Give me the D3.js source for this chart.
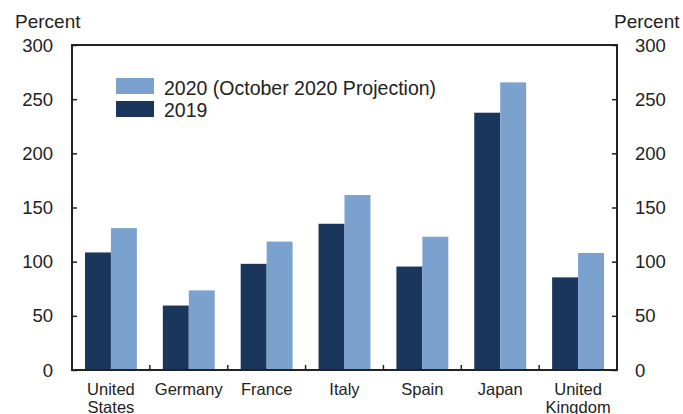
<!DOCTYPE html>
<html><head><meta charset="utf-8">
<script src="https://cdn.jsdelivr.net/npm/d3@7/dist/d3.min.js"></script>
<style>body{margin:0;background:#fff}svg{display:block;font-family:"Liberation Sans",Arial,sans-serif}</style>
</head><body><svg id="c" width="683" height="414"></svg>
<script>
const categories = [["United","States"],["Germany"],["France"],["Italy"],["Spain"],["Japan"],["United","Kingdom"]];
const values2019 = [108.5, 59.5, 98, 135, 95.5, 237.5, 85.5];
const values2020 = [131, 73.5, 118.5, 161.5, 123, 265.5, 108];
const yTicks = [0, 50, 100, 150, 200, 250, 300];
const seriesNames = ["2020 (October 2020 Projection)", "2019"];
const colors = {dark:"#1b365d", light:"#7ba2cf"};

const svg = d3.select("#c");
const m = {l:72, r:617, t:45, b:370};
const x = d3.scaleBand().domain(d3.range(categories.length)).range([m.l, m.r]).paddingInner(0).paddingOuter(0);
const y = d3.scaleLinear().domain([0,300]).range([m.b, m.t]);
const inner = d3.scaleBand().domain([0,1]).range([0, x.bandwidth()]).paddingOuter(0.5).paddingInner(0);

const g = svg.append("g");
categories.forEach((c,i)=>{
  [[values2019[i], colors.dark],[values2020[i], colors.light]].forEach(([v,col],k)=>{
    g.append("rect").attr("x", x(i)+inner(k)).attr("width", inner.bandwidth())
      .attr("y", y(v)).attr("height", y(0)-y(v)).attr("fill", col);
  });
});

const fs = "18.5px";
const left = svg.append("g").attr("transform",`translate(${m.l},0)`)
  .call(d3.axisRight(y).tickValues(yTicks).tickSize(5).tickFormat(""));
const right = svg.append("g").attr("transform",`translate(${m.r},0)`)
  .call(d3.axisLeft(y).tickValues(yTicks).tickSize(5).tickFormat(""));
[left,right].forEach(a=>{a.selectAll("path,line").attr("stroke","#222").attr("stroke-width",1.5);});
left.select(".domain").remove(); right.select(".domain").remove();

yTicks.forEach(t=>{
  svg.append("text").attr("x",53).attr("y",y(t)).attr("dy","0.36em").attr("text-anchor","end")
    .attr("font-size",fs).attr("fill","#222").text(t);
  svg.append("text").attr("x",635).attr("y",y(t)).attr("dy","0.36em").attr("text-anchor","start")
    .attr("font-size",fs).attr("fill","#222").text(t);
});
svg.append("text").attr("x",15).attr("y",28).attr("font-size","19px").attr("fill","#222").text("Percent");
svg.append("text").attr("x",614).attr("y",28).attr("font-size","19px").attr("fill","#222").text("Percent");

svg.append("rect").attr("x",m.l).attr("y",m.t).attr("width",m.r-m.l).attr("height",m.b-m.t)
  .attr("fill","none").attr("stroke","#222").attr("stroke-width",2);

const bottom = svg.append("g").attr("transform",`translate(0,${m.b})`);
d3.range(1,categories.length).forEach(i=>{
  bottom.append("line").attr("x1",x(i)).attr("x2",x(i)).attr("y1",0).attr("y2",-5)
    .attr("stroke","#222").attr("stroke-width",1.5);
});
categories.forEach((c,i)=>{
  const t = svg.append("text").attr("x",x(i)+x.bandwidth()/2).attr("y",395)
    .attr("text-anchor","middle").attr("font-size","16.5px").attr("fill","#222");
  c.forEach((line,j)=>t.append("tspan").attr("x",x(i)+x.bandwidth()/2).attr("dy", j===0?0:18).text(line));
});

const leg = svg.append("g");
[[colors.light, seriesNames[0], 78, 95],[colors.dark, seriesNames[1], 101, 117]].forEach(([col,name,yy,base])=>{
  leg.append("rect").attr("x",116).attr("y",yy).attr("width",38).attr("height",16).attr("fill",col);
  leg.append("text").attr("x",164).attr("y",base).attr("font-size","19.5px").attr("fill","#222").text(name);
});
</script></body></html>
